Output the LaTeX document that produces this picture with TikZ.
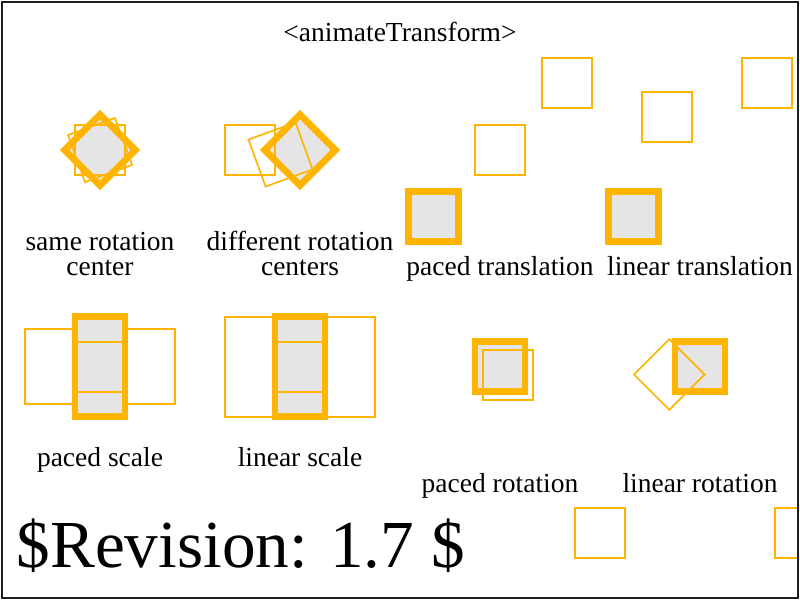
\documentclass[tikz,border=0pt]{standalone}
\usepackage{fontspec}
\setmainfont{Liberation Serif}
\definecolor{org}{RGB}{255,180,0}
\definecolor{fillgray}{RGB}{229,229,229}
\definecolor{framecol}{RGB}{30,30,30}
\begin{document}
\begin{tikzpicture}[x=1pt,y=-1pt,
  thinbox/.style={draw=org, line width=1.67pt},
  thickbox/.style={draw=org, fill=fillgray, line width=6.67pt},
  lbl/.style={font=\fontsize{27.5}{30}\selectfont, anchor=base, inner sep=0pt},
  bigtxt/.style={font=\fontsize{67.2}{70}\selectfont, anchor=base west, inner sep=0pt}]
\useasboundingbox (0,0) rectangle (800,600);
\fill[white] (0,0) rectangle (800,600);

% title
\node[lbl] (title) at (400,41.5) {<animateTransform>};

% same rotation center
\draw[thickbox, shift={(100,150)}, rotate=45] (-25,-25) rectangle (25,25);
\draw[thinbox] (75,125) rectangle (125,175);
\draw[thinbox, shift={(100,150)}, rotate=20] (-25,-25) rectangle (25,25);
\node[lbl] (l1a) at (100,250) {same rotation};
\node[lbl] (l1b) at (100,275) {center};

% different rotation centers
\draw[thickbox, shift={(300,150)}, rotate=45] (-25,-25) rectangle (25,25);
\draw[thinbox] (225,125) rectangle (275,175);
\draw[thinbox, shift={(280.5,154.5)}, rotate=20] (-25,-25) rectangle (25,25);
\node[lbl] (l2a) at (300,250) {different rotation};
\node[lbl] (l2b) at (300,275) {centers};

% paced translation
\draw[thickbox] (408.3,191.7) rectangle (458.3,241.7);
\draw[thinbox] (475,125) rectangle (525,175);
\draw[thinbox] (541.7,58.3) rectangle (591.7,108.3);
\node[lbl] (l3) at (500,275.3) {paced translation};

% linear translation
\draw[thickbox] (608.3,191.7) rectangle (658.3,241.7);
\draw[thinbox] (641.7,91.7) rectangle (691.7,141.7);
\draw[thinbox] (741.7,58.3) rectangle (791.7,108.3);
\node[lbl] (l4) at (700,275.3) {linear translation};

% paced scale
\draw[thinbox] (25,329.2) rectangle (175,404.2);
\draw[thickbox] (75,316.7) rectangle (125,416.7);
\draw[thinbox] (75,341.7) rectangle (125,391.7);
\node[lbl] (l5) at (100,466.7) {paced scale};

% linear scale
\draw[thinbox] (225,316.7) rectangle (375,416.7);
\draw[thickbox] (275,316.7) rectangle (325,416.7);
\draw[thinbox] (275,341.7) rectangle (325,391.7);
\node[lbl] (l6) at (300,466.7) {linear scale};

% paced rotation
\draw[thickbox] (475,341.7) rectangle (525,391.7);
\draw[thinbox] (483.3,350) rectangle (533.3,400);
\node[lbl] (l7) at (500,492.3) {paced rotation};

% linear rotation
\draw[thickbox] (675,341.7) rectangle (725,391.7);
\draw[thinbox, shift={(669.3,374.5)}, rotate=45] (-25,-25) rectangle (25,25);
\node[lbl] (l8) at (700,492.3) {linear rotation};

% bottom squares
\begin{scope}
\clip (2,2) rectangle (798,598);
\draw[thinbox] (575,508.3) rectangle (625,558.3);
\draw[thinbox] (775,508.3) rectangle (825,558.3);
\end{scope}

% revision
\node[bigtxt] (rev) at (16.5,567) {\$Revision: 1.7 \$};

% frame
\draw[draw=framecol, line width=1.8pt] (2,1.9) rectangle (798.2,597.8);
\end{tikzpicture}
\end{document}
